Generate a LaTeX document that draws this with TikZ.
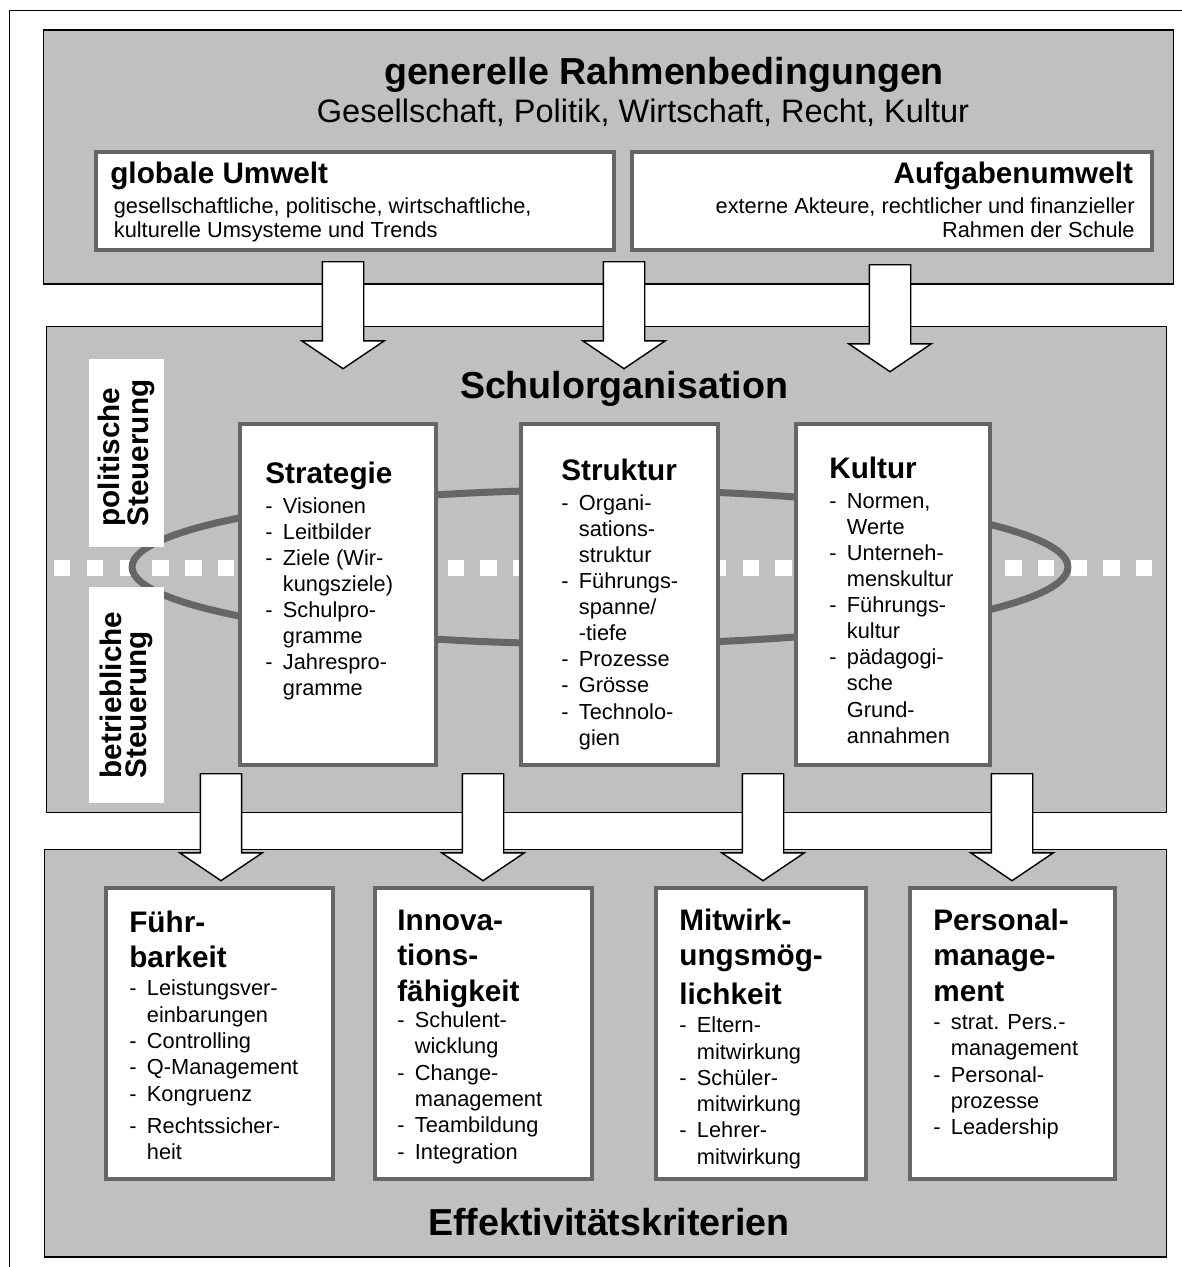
\documentclass[tikz,border=0pt]{standalone}
\usepackage{fontspec}
\setmainfont{Liberation Sans}
\usepackage{tikz}
\usetikzlibrary{positioning, shapes.arrows}

\definecolor{panelgrau}{RGB}{192,192,192}
\definecolor{randgrau}{RGB}{102,102,102}

\newcommand{\kopf}[1]{{\fontsize{16.9pt}{14pt}\selectfont\bfseries #1}}
\newcommand{\punkt}{\makebox[10pt][l]{-}}
\newcommand{\einzug}{\hspace*{10pt}}

\begin{document}
\begin{tikzpicture}[x=0.02cm, y=-0.02cm,
        panel/.style={rectangle, draw=black, line width=0.6pt, fill=panelgrau},
        kasten/.style={rectangle, draw=randgrau, line width=2pt, fill=white},
        kastentext/.style={inner sep=0pt, anchor=north west, align=left, font=\fontsize{12.4pt}{14.85pt}\selectfont},
        titel/.style={anchor=base, font=\fontsize{21.4pt}{25pt}\selectfont\bfseries},
        steuerung/.style={fill=white, rotate=90, inner sep=0pt, align=left, minimum height=1.5cm, font=\fontsize{16.9pt}{14.2pt}\selectfont\bfseries},
        pfeil/.style={single arrow, draw=black, fill=white, line width=0.8pt, single arrow head extend=0.41cm, single arrow tip angle=112, minimum height=2.14cm, minimum width=0pt, inner xsep=0pt, inner ysep=0.4cm, rotate=-90, anchor=tail}]
        \useasboundingbox (0,0) rectangle (1181,1267);
        \draw[line width=1.1pt] (9.5,10.5) rectangle (1200,1290);

        \node[panel, minimum width=22.62cm, minimum height=5.08cm] (rahmen) at (608.5,157) {};
        \node[panel, minimum width=22.42cm, minimum height=9.74cm] (schule) at (606.5,569.5) {};
        \node[panel, minimum width=22.46cm, minimum height=8.16cm] (kriterien) at (605.5,1053) {};

        \node[titel] (rahmentitel) at (664,85) {generelle Rahmenbedingungen};
        \node[anchor=base, font=\fontsize{18.5pt}{22pt}\selectfont] (rahmenzeile) at (643,123) {Gesellschaft, Politik, Wirtschaft, Recht, Kultur};

        \node[kasten, line width=1.8pt, minimum width=10.36cm, minimum height=1.96cm] (global) at (355,201) {};
        \node[kasten, line width=1.8pt, minimum width=10.4cm, minimum height=1.96cm] (aufgabe) at (892,201) {};
        \node[kastentext, font=\fontsize{12.4pt}{13.9pt}\selectfont] (globaltext) at (110,161.5) {\kopf{globale Umwelt}\\[3.1pt]
            \hspace*{2pt}gesellschaftliche, politische, wirtschaftliche,\\
            \hspace*{2pt}kulturelle Umsysteme und Trends};
        \node[kastentext, anchor=north east, align=right, font=\fontsize{12.4pt}{13.9pt}\selectfont] (aufgabetext) at (1135,161.5) {\kopf{Aufgabenumwelt}\hspace*{1pt}\\[3.1pt]
            externe Akteure, rechtlicher und finanzieller\\
            Rahmen der Schule};

        \node[titel] (schultitel) at (624,398) {Schulorganisation};

        \draw[white, line width=0.32cm, dash pattern=on 0.33cm off 0.326cm] (54,568) -- (1152,568);
        \draw[randgrau, line width=0.14cm] (600,567) ellipse [x radius=9.36cm, y radius=1.54cm];

        \node[steuerung, minimum width=3.76cm] (politisch) at (126.5,453) {politische\\Steuerung};
        \node[steuerung, minimum width=4.32cm] (betrieblich) at (126.5,695) {betriebliche\\Steuerung};

        \node[kasten, minimum width=3.92cm, minimum height=6.82cm] (strategie) at (338,594.5) {};
        \node[kasten, minimum width=3.94cm, minimum height=6.82cm] (struktur) at (619.5,594.5) {};
        \node[kasten, minimum width=3.88cm, minimum height=6.82cm] (kultur) at (893,594.5) {};

        \node[kastentext] (strategietext) at (265,461.5) {\kopf{Strategie}\\[2.2pt]
            \punkt Visionen\\ \punkt Leitbilder\\ \punkt Ziele (Wir-\\ \einzug kungsziele)\\
            \punkt Schulpro-\\ \einzug gramme\\ \punkt Jahrespro-\\ \einzug gramme};
        \node[kastentext] (strukturtext) at (561,458.5) {\kopf{Struktur}\\[2.2pt]
            \punkt Organi-\\ \einzug sations-\\ \einzug struktur\\ \punkt Führungs-\\ \einzug spanne/\\ \einzug -tiefe\\
            \punkt Prozesse\\ \punkt Grösse\\ \punkt Technolo-\\ \einzug gien};
        \node[kastentext] (kulturtext) at (829,456.5) {\kopf{Kultur}\\[2.2pt]
            \punkt Normen,\\ \einzug Werte\\ \punkt Unterneh-\\ \einzug menskultur\\ \punkt Führungs-\\ \einzug kultur\\
            \punkt pädagogi-\\ \einzug sche\\ \einzug Grund-\\ \einzug annahmen};

        \node[kasten, minimum width=4.54cm, minimum height=5.82cm] (fuehrbarkeit) at (219.5,1033.5) {};
        \node[kasten, minimum width=4.34cm, minimum height=5.82cm] (innovation) at (483.5,1033.5) {};
        \node[kasten, minimum width=4.2cm, minimum height=5.82cm] (mitwirkung) at (761,1033.5) {};
        \node[kasten, minimum width=4.1cm, minimum height=5.82cm] (personal) at (1012.5,1033.5) {};

        \node[kastentext, font=\fontsize{12.4pt}{14.95pt}\selectfont] (fuehrtext) at (129,910.5) {\kopf{Führ-}\\[5.3pt] \kopf{barkeit}\\[1pt]
            \punkt Leistungsver-\\ \einzug einbarungen\\ \punkt Controlling\\ \punkt Q-Management\\ \punkt Kongruenz\\[3.4pt]
            \punkt Rechtssicher-\\ \einzug heit};
        \node[kastentext, font=\fontsize{12.4pt}{14.95pt}\selectfont] (innotext) at (397,909.5) {\kopf{Innova-}\\[5.3pt] \kopf{tions-}\\[5.3pt] \kopf{fähigkeit}\\[0pt]
            \punkt Schulent-\\ \einzug wicklung\\ \punkt Change-\\ \einzug management\\ \punkt Teambildung\\ \punkt Integration};
        \node[kastentext, font=\fontsize{12.4pt}{14.95pt}\selectfont] (mittext) at (679,908.5) {\kopf{Mitwirk-}\\[5.3pt] \kopf{ungsmög-}\\[5.3pt] \kopf{lichkeit}\\[1pt]
            \punkt Eltern-\\ \einzug mitwirkung\\ \punkt Schüler-\\ \einzug mitwirkung\\ \punkt Lehrer-\\ \einzug mitwirkung};
        \node[kastentext, font=\fontsize{12.4pt}{14.95pt}\selectfont] (persotext) at (933,908.5) {\kopf{Personal-}\\[5.3pt] \kopf{manage-}\\[5.3pt] \kopf{ment}\\[1pt]
            \punkt strat. Pers.-\\ \einzug management\\ \punkt Personal-\\ \einzug prozesse\\ \punkt Leadership};

        \node[titel] (kriterientitel) at (609,1235) {Effektivitätskriterien};

        \node[pfeil] (p1) at (343,261) {};
        \node[pfeil] (p2) at (624,261) {};
        \node[pfeil] (p3) at (890,264) {};
        \node[pfeil] (p4) at (221,773) {};
        \node[pfeil] (p5) at (483,773) {};
        \node[pfeil] (p6) at (763,773) {};
        \node[pfeil] (p7) at (1012,773) {};
    \end{tikzpicture}
\end{document}
